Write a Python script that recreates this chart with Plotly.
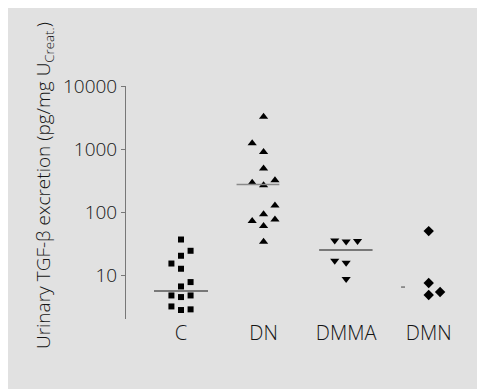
import plotly.graph_objects as go

# ---- data ----
categories = ["C", "DN", "DMMA", "DMN"]

c_values = [37.4, 24.8, 20.7, 15.6, 12.9, 7.94, 6.77, 4.88, 4.6, 4.88, 3.27, 2.87, 2.94]
c_slots = [0, 1, 0, -1, 0, 1, 0, -1, 0, 1, -1, 0, 1]

dn_values = [3275, 1246, 908, 494, 324, 294, 270, 129, 94.2, 77.4, 73.1, 60.9, 34.4]
dn_slots = [0, -1, 0, 0, 1, -1, 0, 1, 0, 1, -1, 0, 0]

dmma_values = [36.1, 34.8, 35.3, 17.3, 16.0, 8.87]
dmma_slots = [-1, 0, 1, -1, 0, 0]

dmn_values = [50.8, 7.67, 5.52, 4.95]
dmn_slots = [0, 0, 1, 0]

medians = [5.73, 277, 25.5, 6.62]

y_tick_values = [10, 100, 1000, 10000]
y_tick_labels = ["10", "100", "1000", "10000"]

# ---- layout / style constants (page body adds an 8px offset) ----
W, H = 477, 381
ML, MR, MT, MB = 118, 15, 78, 70
BG = "#e1e1e1"
FONT = "Open Sans, Liberation Sans, Arial, sans-serif"
TXT = "#151515"
slot_spacing = [0.116, 0.138, 0.138, 0.138]
median_extent = [(-0.327, 0.327), (-0.327, 0.191), (-0.327, 0.320), (-0.335, -0.287)]
median_color = ["#555555", "#8a8a8a", "#555555", "#777777"]
symbols = ["square", "triangle-up", "triangle-down", "diamond"]
sizes = [6, 8, 8, 8]

groups = [(c_values, c_slots), (dn_values, dn_slots), (dmma_values, dmma_slots), (dmn_values, dmn_slots)]

fig = go.Figure()

for i, (vals, slots) in enumerate(groups):
    xs = [i + s * slot_spacing[i] for s in slots]
    fig.add_trace(go.Scatter(
        x=xs, y=vals, mode="markers",
        marker=dict(symbol=symbols[i], size=sizes[i], color="black", line=dict(width=0)),
        showlegend=False, hoverinfo="skip",
    ))
    x0, x1 = median_extent[i]
    fig.add_trace(go.Scatter(
        x=[i + x0, i + x1], y=[medians[i], medians[i]], mode="lines",
        line=dict(color=median_color[i], width=1.5),
        showlegend=False, hoverinfo="skip",
    ))

plot_w = W - ML - MR
plot_h = H - MT - MB
cat_px = 82.57
first_cat_px = 173  # pixel of first category inside the figure
x_left = -(first_cat_px - ML) / cat_px
x_right = x_left + plot_w / cat_px

def px_to_paper_x(px):
    return (px - ML) / plot_w

def px_to_paper_y(py):
    return (H - MB - py) / plot_h

fig.add_annotation(
    text="Urinary TGF-β excretion (pg/mg U<sub>Creat.</sub>)",
    textangle=-90, showarrow=False,
    xref="paper", yref="paper",
    x=px_to_paper_x(36), y=px_to_paper_y(178),
    xanchor="center", yanchor="middle",
    font=dict(family=FONT, size=19, color=TXT, weight=300),
)

fig.update_layout(
    width=W, height=H,
    margin=dict(l=ML, r=MR, t=MT, b=MB, pad=0),
    paper_bgcolor=BG,
    plot_bgcolor=BG,
    font=dict(family=FONT, color=TXT),
    xaxis=dict(
        range=[x_left, x_right],
        tickmode="array", tickvals=list(range(len(categories))), ticktext=categories,
        showline=False, showgrid=False, zeroline=False, ticks="",
        tickfont=dict(size=20, family=FONT, color=TXT, weight=300),
    ),
    yaxis=dict(
        type="log", range=[0.316, 4],
        tickmode="array", tickvals=y_tick_values, ticktext=y_tick_labels,
        showline=True, linecolor="#777777", linewidth=1,
        ticks="outside", ticklen=4, tickcolor="#777777", tickwidth=1,
        showgrid=False, zeroline=False,
        tickfont=dict(size=19, family=FONT, color=TXT, weight=300),
    ),
)

fig.write_html("out.html")
